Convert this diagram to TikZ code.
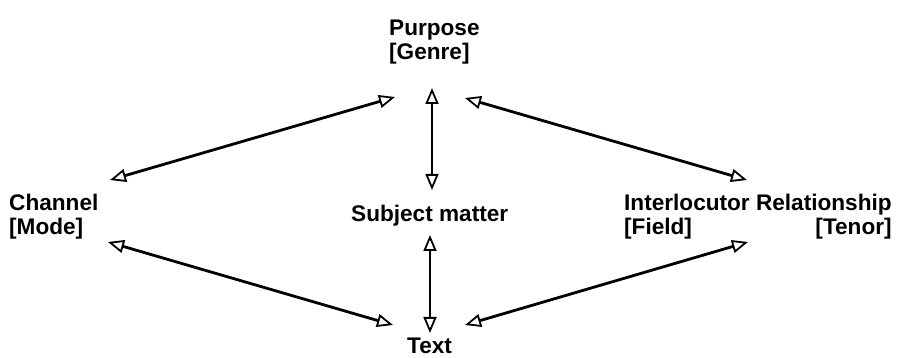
\documentclass[tikz,border=0pt]{standalone}
\usepackage{fontspec}
\setmainfont{Liberation Sans}
\usetikzlibrary{arrows.meta}
\begin{document}
\begin{tikzpicture}[x=1pt,y=-1pt,
  lbl/.style={inner sep=0pt,anchor=north west,align=left,
    font=\bfseries\fontsize{22.6}{24}\selectfont},
  tip/.tip={Triangle[open,length=16pt,width=13pt,line width=1.8pt]},
  dbl/.style={line width=2.8pt,tip-tip}]
\useasboundingbox[fill=white] (0,0) rectangle (903,358);
% labels
\node[lbl] (purpose) at (389,20) {Purpose\\{}[Genre]};
\node[lbl] (channel) at (9,194) {Channel\\{}[Mode]};
\node[lbl] (subject) at (351,205) {Subject matter};
\node[lbl] (inter) at (624,194) {\begin{tabular}{@{}l@{}}Interlocutor Relationship\\{}[Field]\hfill[Tenor]\end{tabular}};
\node[lbl] (text) at (407,338) {Text};
% connector ends
\coordinate (pu-ch-a) at (395,97);
\coordinate (pu-ch-b) at (110,180);
\coordinate (pu-su-a) at (432,88);
\coordinate (pu-su-b) at (432,190);
\coordinate (pu-in-a) at (465,98);
\coordinate (pu-in-b) at (747,180);
\coordinate (ch-te-a) at (108,242);
\coordinate (ch-te-b) at (393,325);
\coordinate (su-te-a) at (430,235);
\coordinate (su-te-b) at (430,333);
\coordinate (in-te-a) at (748,242);
\coordinate (in-te-b) at (465,325);
% connectors
\draw[dbl] (pu-ch-a) -- (pu-ch-b);
\draw[dbl] (pu-su-a) -- (pu-su-b);
\draw[dbl] (pu-in-a) -- (pu-in-b);
\draw[dbl] (ch-te-a) -- (ch-te-b);
\draw[dbl] (su-te-a) -- (su-te-b);
\draw[dbl] (in-te-a) -- (in-te-b);
\end{tikzpicture}
\end{document}
